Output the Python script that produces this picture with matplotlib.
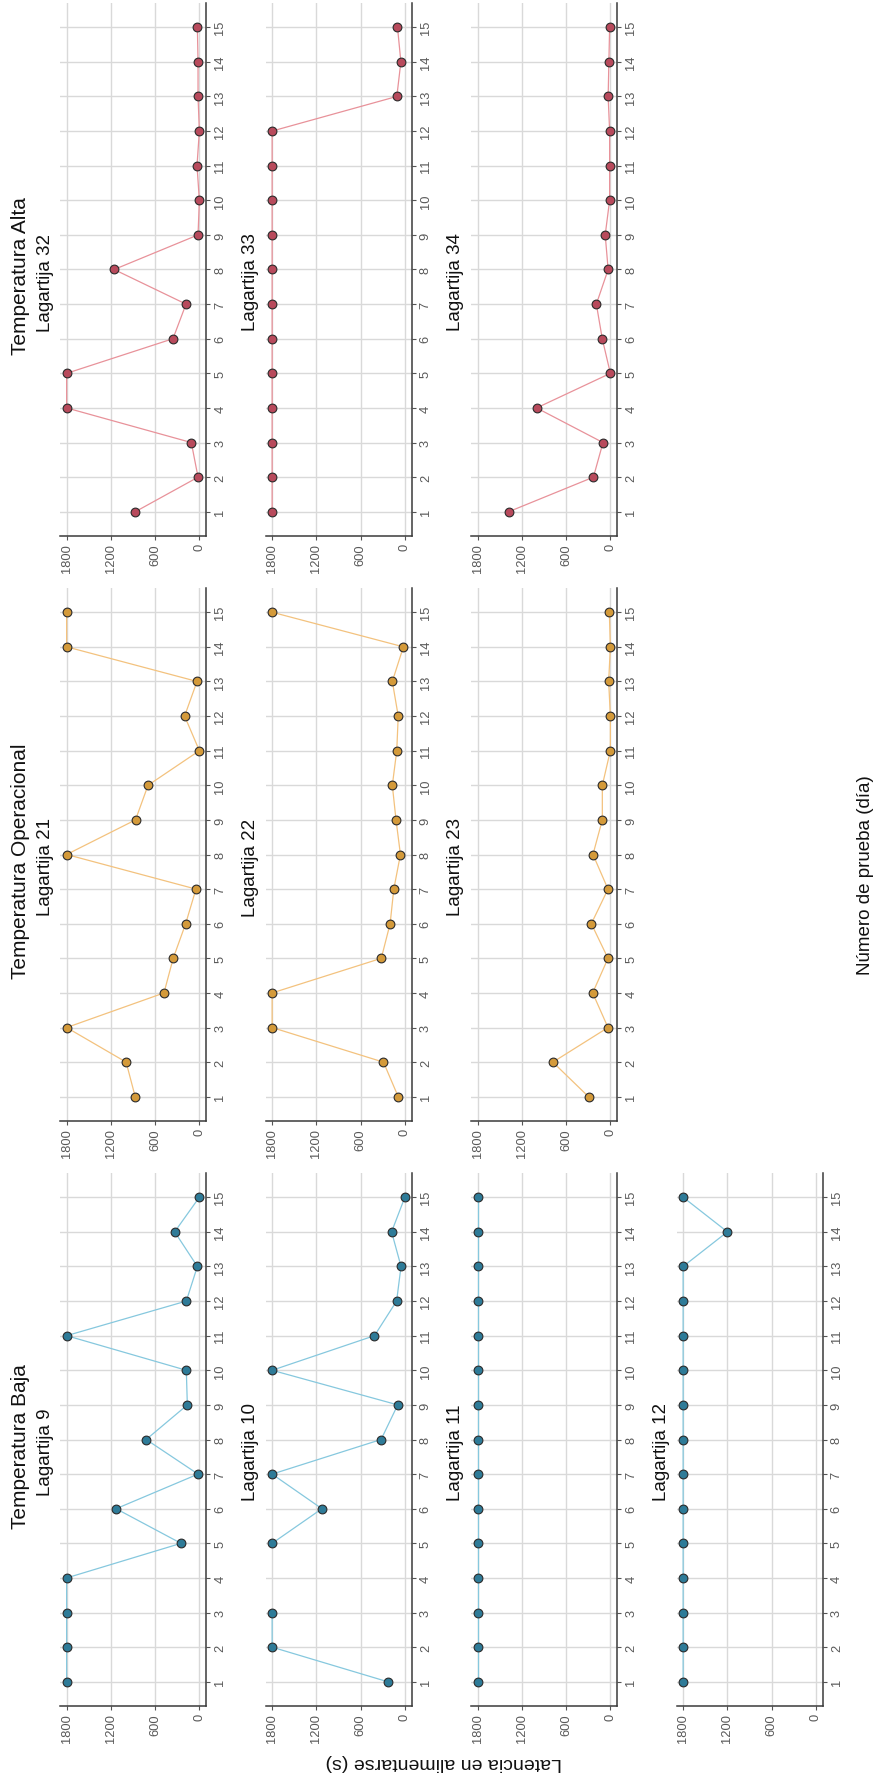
import numpy as np
import matplotlib
matplotlib.use("Agg")
import matplotlib.pyplot as plt

plt.rcParams['font.family'] = ['Liberation Sans', 'DejaVu Sans']

# ---- data: feeding latency (s) per trial day for each lizard ----
days = [1, 2, 3, 4, 5, 6, 7, 8, 9, 10, 11, 12, 13, 14, 15]

groups = ["Temperatura Alta", "Temperatura Operacional", "Temperatura Baja"]

alta_ids = ["Lagartija 32", "Lagartija 33", "Lagartija 34"]
alta_32 = [870, 18, 109, 1800, 1800, 358, 181, 1156, 18, 0, 32, 0, 18, 18, 27]
alta_33 = [1800, 1800, 1800, 1800, 1800, 1800, 1800, 1800, 1800, 1800, 1800, 1800, 109, 54, 100]
alta_34 = [1380, 230, 100, 1000, 0, 110, 190, 30, 70, 10, 10, 10, 30, 20, 10]

oper_ids = ["Lagartija 21", "Lagartija 22", "Lagartija 23"]
oper_21 = [870, 993, 1800, 480, 355, 186, 46, 1800, 866, 696, 0, 200, 32, 1800, 1800]
oper_22 = [90, 290, 1800, 1800, 320, 200, 150, 60, 120, 170, 110, 90, 170, 20, 1800]
oper_23 = [295, 780, 32, 240, 32, 258, 32, 236, 109, 109, 0, 0, 23, 0, 14]

baja_ids = ["Lagartija 9", "Lagartija 10", "Lagartija 11", "Lagartija 12"]
baja_9 = [1800, 1800, 1800, 1800, 249, 1129, 18, 721, 163, 177, 1800, 177, 27, 335, 0]
baja_10 = [232, 1800, 1800, np.nan, 1800, 1125, 1800, 322, 97, 1800, 412, 112, 52, 180, 0]
baja_11 = [1800, 1800, 1800, 1800, 1800, 1800, 1800, 1800, 1800, 1800, 1800, 1800, 1800, 1800, 1800]
baja_12 = [1800, 1800, 1800, 1800, 1800, 1800, 1800, 1800, 1800, 1800, 1800, 1800, 1800, 1200, 1800]

lat_ticks = [0, 600, 1200, 1800]

# colours per temperature group: (line, marker fill)
styles = {
    "Temperatura Alta": ("#E8929A", "#B84A5C"),
    "Temperatura Operacional": ("#F3C27E", "#D49A3A"),
    "Temperatura Baja": ("#86C8DE", "#2E7B98"),
}

rows = [
    ("Temperatura Alta", alta_ids, [alta_32, alta_33, alta_34]),
    ("Temperatura Operacional", oper_ids, [oper_21, oper_22, oper_23]),
    ("Temperatura Baja", baja_ids, [baja_9, baja_10, baja_11, baja_12]),
]

# ---- layout (pixels) ----
W, H = 874, 1781
fig = plt.figure(figsize=(W / 100, H / 100), dpi=100)
fig.patch.set_facecolor("white")

row_top = [4, 589, 1174]
row_bot = [537, 1122, 1707]
col_left0, col_step, panel_w = 60, 205.5, 146


def add_px_axes(left, top, right, bottom):
    return fig.add_axes([left / W, 1 - bottom / H, (right - left) / W, (bottom - top) / H])


for r, (group, ids, series) in enumerate(rows):
    line_c, fill_c = styles[group]
    top, bot = row_top[r], row_bot[r]
    yc = (top + bot) / 2
    for j, (name, vals) in enumerate(zip(ids, series)):
        left = col_left0 + col_step * j
        ax = add_px_axes(left, top, left + panel_w, bot)
        ax.plot(vals, days, color=line_c, lw=0.9, zorder=2)
        ax.plot(vals, days, linestyle="none", marker="o", ms=6.3,
                mfc=fill_c, mec="#2A2A2A", mew=0.8, zorder=3)
        ax.set_xlim(1890, -90)
        ax.set_ylim(0.3, 15.7)
        ax.set_xticks(lat_ticks)
        ax.set_xticklabels([str(t) for t in lat_ticks])
        ax.set_yticks(days)
        ax.set_yticklabels([str(d) for d in days])
        ax.yaxis.tick_right()
        ax.grid(True, color="#D9D9D9", lw=1.0, zorder=0)
        ax.set_axisbelow(True)
        for s in ("top", "left"):
            ax.spines[s].set_visible(False)
        for s in ("bottom", "right"):
            ax.spines[s].set_color("#3A3A3A")
            ax.spines[s].set_linewidth(1.1)
        ax.tick_params(axis="x", labelrotation=90, length=3, width=0.8,
                       color="#555555", labelcolor="#595959", labelsize=9.3, pad=2)
        ax.tick_params(axis="y", labelrotation=90, length=3, width=0.8,
                       color="#555555", labelcolor="#595959", labelsize=9.3, pad=3)
        for lab in ax.get_yticklabels():
            lab.set_verticalalignment("center")
        ax.set_facecolor("white")
        # lizard label
        fig.text((left - 15) / W, 1 - (yc + 12) / H, name, rotation=90,
                 ha="center", va="center", fontsize=13.5, color="#111111")
    # group heading beside the first panel
    fig.text(21 / W, 1 - (yc + 6) / H, group, rotation=90,
             ha="center", va="center", fontsize=15, color="#111111")

# shared axis titles
fig.text(866 / W, 1 - 875 / H, "Número de prueba (día)", rotation=90,
         ha="center", va="center", fontsize=13.5, color="#111111")
fig.text(444 / W, 1 - 1763 / H, "Latencia en alimentarse (s)", rotation=180,
         ha="center", va="center", fontsize=14, color="#111111")

fig.savefig("out.png", dpi=100, facecolor="white")
